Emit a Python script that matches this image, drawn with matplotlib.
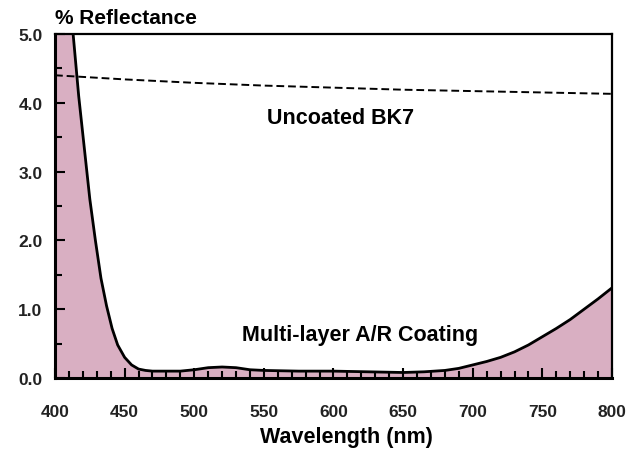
import numpy as np
import matplotlib.pyplot as plt
from matplotlib.ticker import MultipleLocator

# du lieu doc tu hinh
wl_bk7 = [400, 450, 500, 550, 600, 650, 700, 750, 800]
r_bk7 = [4.40, 4.34, 4.29, 4.25, 4.22, 4.19, 4.17, 4.15, 4.13]

wl_ar = [400, 405, 410, 413, 417, 421, 425, 429, 433, 437, 441, 445, 450,
         455, 460, 465, 470, 480, 490, 500, 510, 520, 530, 540, 550, 575,
         600, 625, 650, 665, 680, 690, 700, 710, 720, 730, 740, 750, 760,
         770, 780, 790, 800]
r_ar = [6.6, 6.1, 5.5, 5.0, 4.1, 3.35, 2.6, 2.0, 1.45, 1.05, 0.72, 0.48, 0.30,
        0.19, 0.13, 0.11, 0.10, 0.10, 0.10, 0.12, 0.15, 0.16, 0.15, 0.12, 0.11, 0.10,
        0.10, 0.09, 0.08, 0.09, 0.11, 0.14, 0.19, 0.24, 0.30, 0.38, 0.48, 0.60, 0.72,
        0.85, 1.00, 1.15, 1.31]

plt.rcParams['font.family'] = ['Liberation Sans', 'DejaVu Sans']

fig = plt.figure(figsize=(6.28, 4.52), dpi=100)
ax = fig.add_axes([0.0876, 0.1615, 0.8869, 0.7611])

ax.fill_between(wl_ar, 0, r_ar, color='#d9afc2', lw=0, zorder=1)
ax.plot(wl_ar, r_ar, color='black', lw=2.0, zorder=3)
ax.plot(wl_bk7, r_bk7, color='black', lw=1.4, ls=(0, (4, 2)), zorder=3)

ax.set_xlim(400, 800)
ax.set_ylim(0, 5.0)
ax.xaxis.set_major_locator(MultipleLocator(50))
ax.xaxis.set_minor_locator(MultipleLocator(10))
ax.yaxis.set_major_locator(MultipleLocator(1.0))
ax.yaxis.set_minor_locator(MultipleLocator(0.5))
ax.yaxis.set_major_formatter(plt.FuncFormatter(lambda v, p: '%.1f' % v))

ax.tick_params(which='both', direction='in', width=1.5, colors='black',
               labelsize=12.5, top=False, right=False)
ax.tick_params(which='major', length=7)
ax.tick_params(which='minor', length=5)
ax.tick_params(axis='x', pad=19)
ax.tick_params(axis='y', pad=9)
for lb in ax.get_xticklabels() + ax.get_yticklabels():
    lb.set_fontweight('bold')
    lb.set_color('#222222')

ax.spines['left'].set_linewidth(2.2)
ax.spines['bottom'].set_linewidth(2.2)
ax.spines['top'].set_linewidth(1.6)
ax.spines['right'].set_linewidth(1.6)
for s in ax.spines.values():
    s.set_zorder(4)

ax.set_xlabel('Wavelength (nm)', fontsize=15.5, fontweight='bold')
ax.xaxis.set_label_coords(0.523, -0.14)
fig.text(0.0876, 0.938, '% Reflectance', fontsize=15, fontweight='bold',
         ha='left', va='bottom')

ax.text(605, 3.78, 'Uncoated BK7', fontsize=15.5, fontweight='bold',
        ha='center', va='center')
ax.text(619, 0.63, 'Multi-layer A/R Coating', fontsize=15.5, fontweight='bold',
        ha='center', va='center')

fig.savefig('out.png', dpi=100)
